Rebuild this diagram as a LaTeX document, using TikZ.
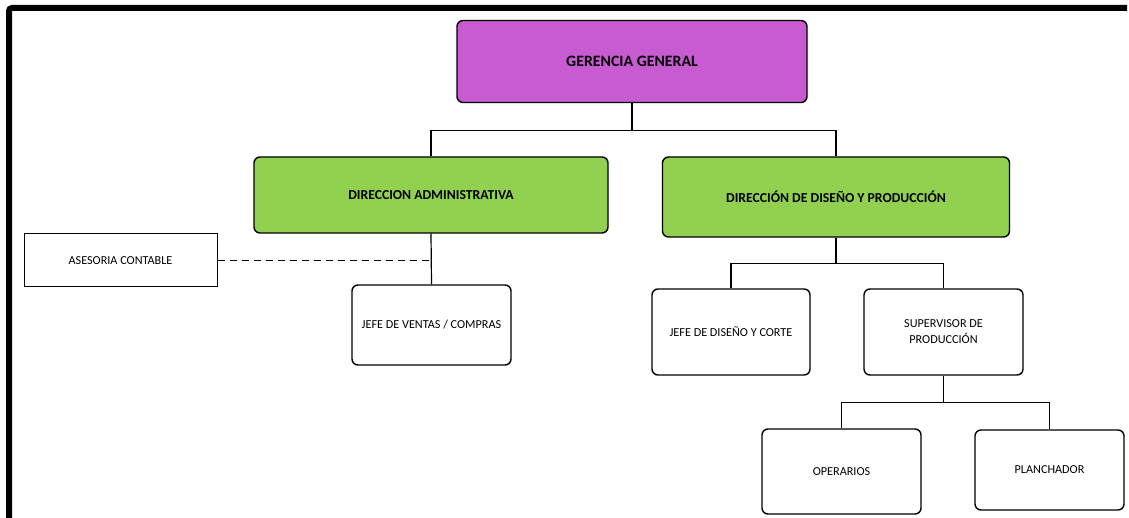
\documentclass[tikz,border=0pt]{standalone}
\usepackage{fontspec}
\setmainfont{Carlito}
\definecolor{gpurple}{RGB}{200,90,210}
\definecolor{ggreen}{RGB}{146,208,80}
\tikzset{
  box/.style={draw=black, line width=1.4pt, rounded corners=6pt, align=center, inner sep=2pt, font=\fontsize{12.2}{14}\selectfont},
  headbox/.style={box, font=\bfseries\fontsize{13.7}{16}\selectfont},
  conn/.style={draw=black, line width=1.2pt},
  frameline/.style={draw=black, line width=6pt},
}
\begin{document}
\begin{tikzpicture}[x=1pt,y=-1pt]
\useasboundingbox (0,0) rectangle (1129,518);
\coordinate (fl) at (9,518);
\coordinate (fc) at (9,8);
\coordinate (fr) at (1127,8);
\draw[frameline, rounded corners=3pt] (fl) -- (fc) -- (fr);
\node[headbox, fill=gpurple, minimum width=350pt, minimum height=82pt, font=\bfseries\fontsize{15.8}{18}\selectfont] (gg) at (632,61.5) {GERENCIA GENERAL};
\node[headbox, fill=ggreen, minimum width=354pt, minimum height=76pt] (da) at (431,195) {DIRECCION ADMINISTRATIVA};
\node[headbox, fill=ggreen, minimum width=347pt, minimum height=80pt] (dd) at (836,197) {DIRECCIÓN DE DISEÑO Y PRODUCCIÓN};
\node[box, rounded corners=0pt, line width=1pt, minimum width=193pt, minimum height=53pt] (as) at (120.5,260.5) {ASESORIA CONTABLE};
\node[box, minimum width=159pt, minimum height=80pt] (jv) at (431.5,325) {JEFE DE VENTAS / COMPRAS};
\node[box, minimum width=158pt, minimum height=86pt] (jd) at (731,332) {JEFE DE DISEÑO Y CORTE};
\node[box, minimum width=159pt, minimum height=86pt] (sp) at (943.5,332) {SUPERVISOR DE\\[2pt]PRODUCCIÓN};
\node[box, minimum width=159pt, minimum height=85pt] (op) at (841.5,471.5) {OPERARIOS};
\node[box, minimum width=149pt, minimum height=80pt] (pl) at (1049.5,470) {PLANCHADOR};
\draw[conn] (gg.south) -- ++(0,27) -| (da.north);
\draw[conn] (gg.south) -- ++(0,27) -| (dd.north);
\draw[conn] (da.south) -- (jv.north);
\draw[conn, dash pattern=on 7pt off 5pt] (as.east) -- (as.east -| da.south);
\draw[conn] (dd.south) -- ++(0,26) -| (jd.north);
\draw[conn] (dd.south) -- ++(0,26) -| (sp.north);
\draw[conn] (sp.south) -- ++(0,27) -| (op.north);
\draw[conn] (sp.south) -- ++(0,27) -| (pl.north);
\end{tikzpicture}
\end{document}
